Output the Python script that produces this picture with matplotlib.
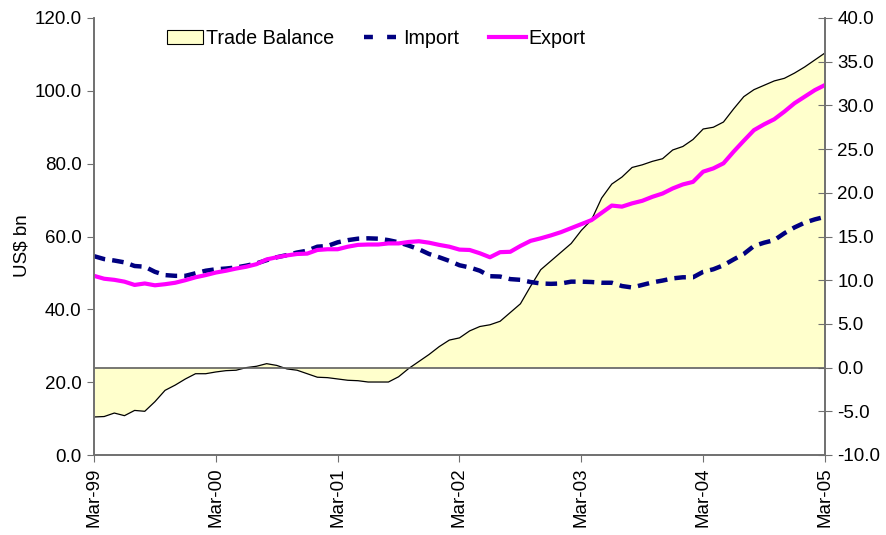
import matplotlib
matplotlib.use("Agg")
import matplotlib.pyplot as plt
from matplotlib.patches import Patch
from matplotlib.lines import Line2D
from matplotlib.ticker import FormatStrFormatter, MultipleLocator

plt.rcParams['font.family'] = ['Liberation Sans', 'DejaVu Sans']

# Monthly data, Mar-99 .. Mar-05 (73 months)
import_vals = [54.6, 53.8, 53.4, 52.9, 51.9, 51.7, 50.3, 49.4, 49.2, 49.2,
               49.9, 50.6, 51.0, 51.2, 51.5, 52.0, 52.6, 53.5, 54.3, 54.9,
               55.6, 56.1, 57.2, 57.4, 58.4, 59.0, 59.4, 59.5, 59.4, 59.0,
               58.4, 57.5, 56.5, 55.2, 54.3, 53.3, 52.1, 51.5, 50.6, 49.1,
               49.0, 48.3, 48.1, 47.5, 47.1, 47.0, 47.1, 47.6, 47.6, 47.5,
               47.3, 47.3, 46.4, 46.0, 46.7, 47.4, 47.9, 48.5, 48.8, 48.8,
               50.3, 51.0, 52.1, 53.7, 55.2, 57.4, 58.3, 59.0, 60.9, 62.5,
               63.8, 64.7, 65.4]
export_vals = [49.2, 48.4, 48.1, 47.6, 46.7, 47.1, 46.6, 46.9, 47.3, 48.0,
               48.8, 49.4, 50.1, 50.6, 51.2, 51.7, 52.4, 53.7, 54.3, 54.8,
               55.2, 55.3, 56.3, 56.5, 56.5, 57.2, 57.7, 57.8, 57.8, 58.1,
               58.1, 58.5, 58.7, 58.3, 57.7, 57.2, 56.4, 56.3, 55.4, 54.3,
               55.7, 55.8, 57.4, 58.8, 59.5, 60.3, 61.2, 62.3, 63.4, 64.5,
               66.5, 68.5, 68.2, 69.1, 69.8, 70.9, 71.8, 73.2, 74.3, 75.0,
               77.8, 78.7, 80.1, 83.3, 86.3, 89.2, 90.8, 92.2, 94.3, 96.6,
               98.4, 100.2, 101.6]
balance_vals = [-5.65, -5.6, -5.2, -5.5, -4.9, -5.0, -3.9, -2.6, -2.0, -1.3,
                -0.7, -0.7, -0.5, -0.35, -0.3, 0.0, 0.15, 0.45, 0.25, -0.15,
                -0.3, -0.7, -1.1, -1.15, -1.3, -1.45, -1.5, -1.65, -1.65, -1.65,
                -1.05, -0.1, 0.7, 1.5, 2.4, 3.15, 3.4, 4.2, 4.7, 4.9,
                5.3, 6.3, 7.3, 9.3, 11.2, 12.2, 13.2, 14.2, 15.7, 16.9,
                19.4, 21.0, 21.8, 22.9, 23.2, 23.6, 23.9, 24.9, 25.3, 26.1,
                27.3, 27.5, 28.1, 29.6, 31.0, 31.8, 32.3, 32.8, 33.1, 33.7,
                34.4, 35.2, 36.0]
tick_labels = ["Mar-99", "Mar-00", "Mar-01", "Mar-02", "Mar-03", "Mar-04", "Mar-05"]

months = list(range(len(import_vals)))
tick_pos = [12 * i for i in range(len(tick_labels))]

W, H = 886, 535
fig = plt.figure(figsize=(W / 100, H / 100), dpi=100)
ax = fig.add_axes([94 / W, 1 - 455 / H, (825 - 94) / W, (455 - 18) / H])
ax2 = ax.twinx()
ax.set_zorder(ax2.get_zorder() + 1)
ax.patch.set_visible(False)

spine_color = '#707070'
FS = 13.5

# Trade balance area (right axis)
ax2.fill_between(months, balance_vals, 0, facecolor='#FFFFCC', edgecolor='none')
ax2.plot(months, balance_vals, color='black', lw=0.9)
ax2.axhline(0, color='#606060', lw=1.2)
ax2.set_ylim(-10, 40)
ax2.yaxis.set_major_locator(MultipleLocator(5))
ax2.yaxis.set_major_formatter(FormatStrFormatter('%.1f'))
ax2.tick_params(axis='y', direction='inout', length=10, color=spine_color,
                labelsize=FS, pad=4)

# Import / Export lines (left axis)
ax.plot(months, import_vals, color='#000080', lw=3.2, linestyle=(0, (2.6, 1.6)),
        dash_capstyle='butt')
ax.plot(months, export_vals, color='#FF00FF', lw=3.0)
ax.set_ylim(0, 120)
ax.yaxis.set_major_locator(MultipleLocator(20))
ax.yaxis.set_major_formatter(FormatStrFormatter('%.1f'))
ax.set_xlim(0, 72)
ax.set_xticks(tick_pos)
ax.set_xticklabels(tick_labels, rotation=90)
ax.tick_params(axis='y', direction='out', length=5, color=spine_color,
               labelsize=FS, pad=4)
ax.tick_params(axis='x', direction='out', length=5, color=spine_color,
               labelsize=FS, pad=4)
ax.set_ylabel('US$ bn', fontsize=FS)
ax.yaxis.set_label_coords(-(94 - 31) / (825 - 94), (455 - 246) / (455 - 18))

for a in (ax, ax2):
    a.spines['top'].set_visible(False)
    for s in ('left', 'right', 'bottom'):
        a.spines[s].set_color(spine_color)
        a.spines[s].set_linewidth(1.2)
ax2.set_xlim(0, 72)

handles = [Patch(facecolor='#FFFFCC', edgecolor='black', lw=0.8),
           Line2D([], [], color='#000080', lw=3.2, linestyle=(0, (2.0, 3.2)),
                  dash_capstyle='butt'),
           Line2D([], [], color='#FF00FF', lw=3.0)]
fig.legend(handles, ['Trade Balance', 'Import', 'Export'], ncol=3, frameon=False,
           loc='center left', bbox_to_anchor=(167 / W, 1 - 38 / H),
           fontsize=14.2, handlelength=1.85, handletextpad=0.15, columnspacing=1.5,
           borderpad=0, borderaxespad=0)

fig.savefig('out.png', dpi=100)
